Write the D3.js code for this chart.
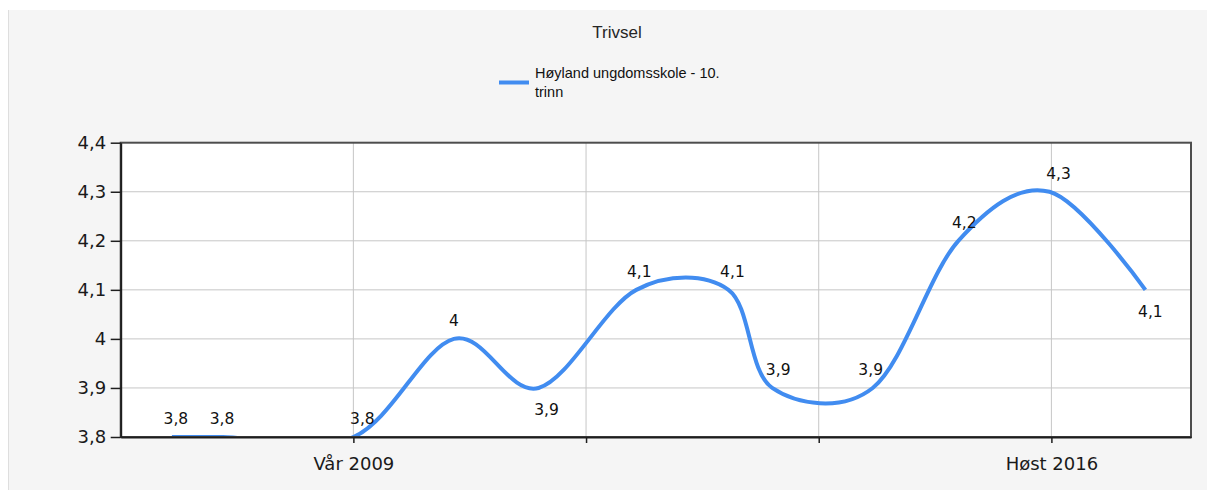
<!DOCTYPE html>
<html>
<head>
<meta charset="utf-8">
<script src="https://cdn.jsdelivr.net/npm/d3@7"></script>
<style>
  body { margin: 0; background: #fff; }
  svg { display: block; }
</style>
</head>
<body>
<svg id="chart"></svg>
<script>
// survey times as decimal years (Vår = start of year, Høst = mid year)
const years  = [2007.05, 2007.6, 2009.0, 2010.08, 2010.99, 2012.04, 2013.03, 2013.5, 2014.58, 2015.5, 2016.48, 2017.51];
const values = [3.8, 3.8, 3.8, 4.0, 3.9, 4.1, 4.1, 3.9, 3.9, 4.2, 4.3, 4.1];
const labelBelow = [false, false, false, false, true, false, false, false, false, false, false, true];
const labelNudge = [4, -1, 9, 0, 8, 3, 4, 6, -2, 6, 9, 5];

const yTicks = [3.8, 3.9, 4.0, 4.1, 4.2, 4.3, 4.4];
const xTicks = [2009, 2011.5, 2014, 2016.5];
const xTickLabels = ["Vår 2009", "", "", "Høst 2016"];

const chartTitle = "Trivsel";
const seriesName = ["Høyland ungdomsskole - 10.", "trinn"];

class SplineChart {
    margin = {
        top: 142.7, right: 16, bottom: 53, left: 120.7
    }

    constructor(svg, width = 1207, height = 490) {
        this.svg = svg;
        this.width = width;
        this.height = height;
        this.color = "#418CF0";
    }

    initialize() {
        this.svg = d3.select(this.svg)
            .attr("width", this.width)
            .attr("height", this.height);

        this.innerW = this.width - this.margin.left - this.margin.right;
        this.innerH = this.height - this.margin.top - this.margin.bottom;

        // outer chart background
        this.svg.append("rect")
            .attr("x", 8).attr("y", 10)
            .attr("width", this.width - 8).attr("height", this.height - 10)
            .attr("fill", "#f5f5f5");
        this.svg.append("line")
            .attr("x1", 8.5).attr("x2", 8.5).attr("y1", 10).attr("y2", this.height)
            .attr("stroke", "#dedede").attr("stroke-width", 1);

        this.container = this.svg.append("g")
            .attr("transform", `translate(${this.margin.left}, ${this.margin.top})`);

        this.xScale = d3.scaleLinear().domain([2006.5, 2018.0]).range([0, this.innerW]);
        this.yScale = d3.scaleLinear().domain([3.8, 4.4]).range([this.innerH, 0]);

        this.svg.append("defs").append("clipPath").attr("id", "plotclip")
            .append("rect").attr("width", this.innerW).attr("height", this.innerH);
    }

    update() {
        const fmt = d3.formatLocale({decimal: ",", thousands: " ", grouping: [3], currency: ["", " kr"]}).format(".1~f");
        const g = this.container;

        g.append("rect")
            .attr("width", this.innerW).attr("height", this.innerH)
            .attr("fill", "#ffffff");

        // grid
        g.append("g").selectAll("line")
            .data(yTicks.slice(1, -1))
            .join("line")
            .attr("x1", 0).attr("x2", this.innerW)
            .attr("y1", d => this.yScale(d)).attr("y2", d => this.yScale(d))
            .attr("stroke", "#c6c6c6").attr("stroke-width", 1);
        g.append("g").selectAll("line")
            .data(xTicks)
            .join("line")
            .attr("x1", d => this.xScale(d)).attr("x2", d => this.xScale(d))
            .attr("y1", 0).attr("y2", this.innerH)
            .attr("stroke", "#c6c6c6").attr("stroke-width", 1);

        // series
        const pts = years.map((x, i) => ({x: x, y: values[i], i: i}));
        const line = d3.line()
            .x(d => this.xScale(d.x))
            .y(d => this.yScale(d.y))
            .curve(d3.curveCardinal.tension(0));

        g.append("path")
            .datum(pts)
            .attr("clip-path", "url(#plotclip)")
            .attr("fill", "none")
            .attr("stroke", this.color)
            .attr("stroke-width", 4)
            .attr("stroke-linejoin", "round")
            .attr("d", line);

        // frame
        g.append("rect")
            .attr("width", this.innerW).attr("height", this.innerH)
            .attr("fill", "none").attr("stroke", "#4d4d4d").attr("stroke-width", 2);

        // axes
        const yAxis = g.append("g")
            .call(d3.axisLeft(this.yScale).tickValues(yTicks).tickSize(10).tickSizeOuter(0)
                .tickPadding(4.5).tickFormat(fmt));
        const xAxis = g.append("g")
            .attr("transform", `translate(0, ${this.innerH})`)
            .call(d3.axisBottom(this.xScale).tickValues(xTicks).tickSize(6).tickSizeOuter(0)
                .tickPadding(14).tickFormat((d, i) => xTickLabels[i]));

        [yAxis, xAxis].forEach(a => {
            a.select(".domain").attr("stroke", "#1e1e1e").attr("stroke-width", 2);
            a.selectAll(".tick line").attr("stroke", "#1e1e1e").attr("stroke-width", 1.5);
            a.selectAll("text")
                .attr("fill", "#1a1a1a")
                .style("font-family", "'DejaVu Sans', sans-serif")
                .style("font-size", "18px");
        });

        // data labels
        g.append("g").selectAll("text")
            .data(pts)
            .join("text")
            .attr("x", d => this.xScale(d.x) + labelNudge[d.i])
            .attr("y", d => this.yScale(d.y) + (labelBelow[d.i] ? 27 : -12.5))
            .attr("text-anchor", "middle")
            .attr("fill", "#111")
            .style("font-family", "'DejaVu Sans', sans-serif")
            .style("font-size", "15.5px")
            .text(d => fmt(d.y));

        // title + legend
        this.svg.append("text")
            .attr("x", 617).attr("y", 38)
            .attr("text-anchor", "middle")
            .attr("fill", "#262626")
            .style("font-family", "'Liberation Sans', Arial, sans-serif")
            .style("font-size", "17px")
            .text(chartTitle);

        const legend = this.svg.append("g").attr("transform", "translate(499, 82.5)");
        legend.append("line")
            .attr("x1", 0).attr("x2", 30)
            .attr("stroke", this.color).attr("stroke-width", 4);
        legend.selectAll("text")
            .data(seriesName)
            .join("text")
            .attr("x", 36)
            .attr("y", (d, i) => -4.5 + i * 19)
            .attr("fill", "#111")
            .style("font-family", "'Liberation Sans', Arial, sans-serif")
            .style("font-size", "14.5px")
            .text(d => d);
    }
}

const chart = new SplineChart(document.getElementById("chart"));
chart.initialize();
chart.update();
</script>
</body>
</html>
